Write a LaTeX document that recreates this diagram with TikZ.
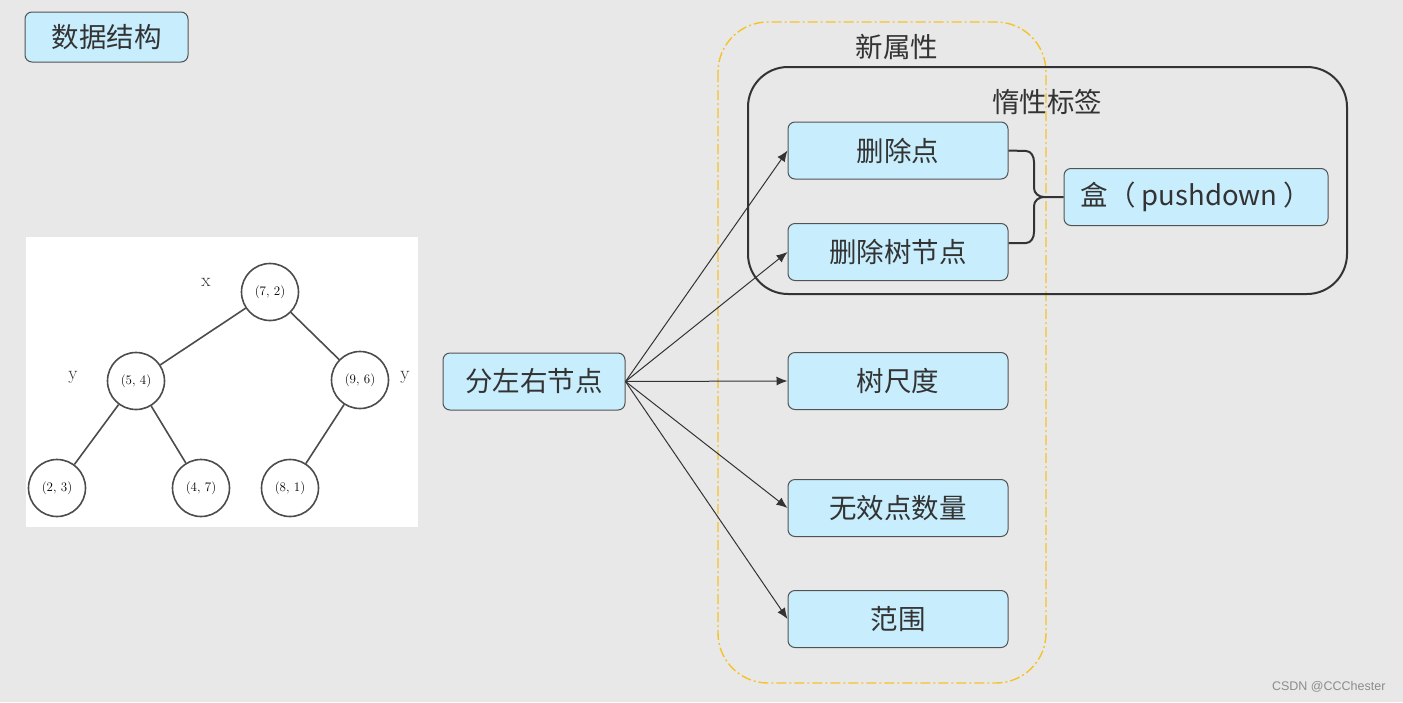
\documentclass[tikz,border=0pt]{standalone}
\usepackage{fontspec}
\newfontfamily\cjk{Noto Sans CJK SC}
\newfontfamily\wmfont{Liberation Sans}
\usetikzlibrary{arrows.meta}
\definecolor{bg}{HTML}{E8E8E8}
\definecolor{boxfill}{HTML}{C8EEFD}
\definecolor{ink}{HTML}{333333}
\definecolor{tagline}{HTML}{F5C22B}
\tikzset{
  topic/.style={draw=ink!85, fill=boxfill, rounded corners=7pt, line width=1pt,
    minimum width=220pt, minimum height=57pt, inner sep=0pt, text=ink,
    font=\cjk\fontsize{27.5}{32}\selectfont},
  kd/.style={circle, draw=black!70, fill=white, line width=1.6pt,
    minimum size=57pt, inner sep=0pt, font=\fontsize{13}{15}\selectfont},
  axis/.style={font=\fontsize{19}{22}\selectfont, text=black!80},
  link/.style={draw=ink, line width=1pt, -{Latex[length=11pt,width=9pt]}},
  brace/.style={draw=ink, line width=2pt},
}
\begin{document}
\begin{tikzpicture}[x=1pt,y=-1pt]
\fill[bg] (0,0) rectangle (1403,702);
\useasboundingbox (0,0) rectangle (1403,702);
% frames
\draw[tagline, line width=1.4pt, dash pattern=on 10pt off 3pt on 2pt off 3pt,
      rounded corners=50pt] (718,22) rectangle (1046,683);
\node[font=\cjk\fontsize{27.5}{32}\selectfont, text=ink] (newattr) at (897,47) {新属性};
\draw[ink, line width=2pt, rounded corners=40pt] (748,67) rectangle (1347,294);
\node[font=\cjk\fontsize{27.5}{32}\selectfont, text=ink] (lazy) at (1047,102) {惰性标签};
% title
\node[topic, minimum width=163pt, minimum height=50pt] (ds) at (106.5,37) {数据结构};
% kd tree picture
\fill[white] (26,237) rectangle (418,527);
\node[kd] (n72) at (270,292) {(7, 2)};
\node[kd] (n54) at (136,381) {(5, 4)};
\node[kd] (n96) at (360,380) {(9, 6)};
\node[kd] (n23) at (57,488) {(2, 3)};
\node[kd] (n47) at (201,488) {(4, 7)};
\node[kd] (n81) at (290,488) {(8, 1)};
\draw[black!70, line width=1.6pt] (n72) -- (n54) (n72) -- (n96)
      (n54) -- (n23) (n54) -- (n47) (n96) -- (n81);
\node[axis] (ax) at (206,282) {x};
\node[axis] (ay1) at (73,377) {y};
\node[axis] (ay2) at (405,377) {y};
% split and its attributes
\node[topic, minimum width=182pt] (split) at (534,381.5) {分左右节点};
\node[topic] (del) at (898,150.5) {删除点};
\node[topic] (deltree) at (898,252) {删除树节点};
\node[topic] (size) at (898,381) {树尺度};
\node[topic] (invalid) at (898,508) {无效点数量};
\node[topic] (range) at (898,619) {范围};
\node[topic, minimum width=264pt] (push) at (1196,197) {盒（ pushdown ）};
\foreach \t in {del,deltree,size,invalid,range}
  \draw[link] (split.east) -- (\t.west);
% brace
\coordinate (tip) at (1044,197);
\draw[brace] (del.east) -- (1026,151) to[out=0,in=90] (1034,162) -- (1034,188)
      to[out=-90,in=180] (tip) -- (push.west);
\draw[brace] ([yshift=9pt]deltree.east) -- (1026,243) to[out=0,in=-90] (1034,232) -- (1034,206)
      to[out=90,in=180] (tip);
% watermark
\node[font=\wmfont\fontsize{12.5}{14}\selectfont, text=black!45, anchor=east] (mark) at (1389,687) {CSDN @CCChester};
\end{tikzpicture}
\end{document}
